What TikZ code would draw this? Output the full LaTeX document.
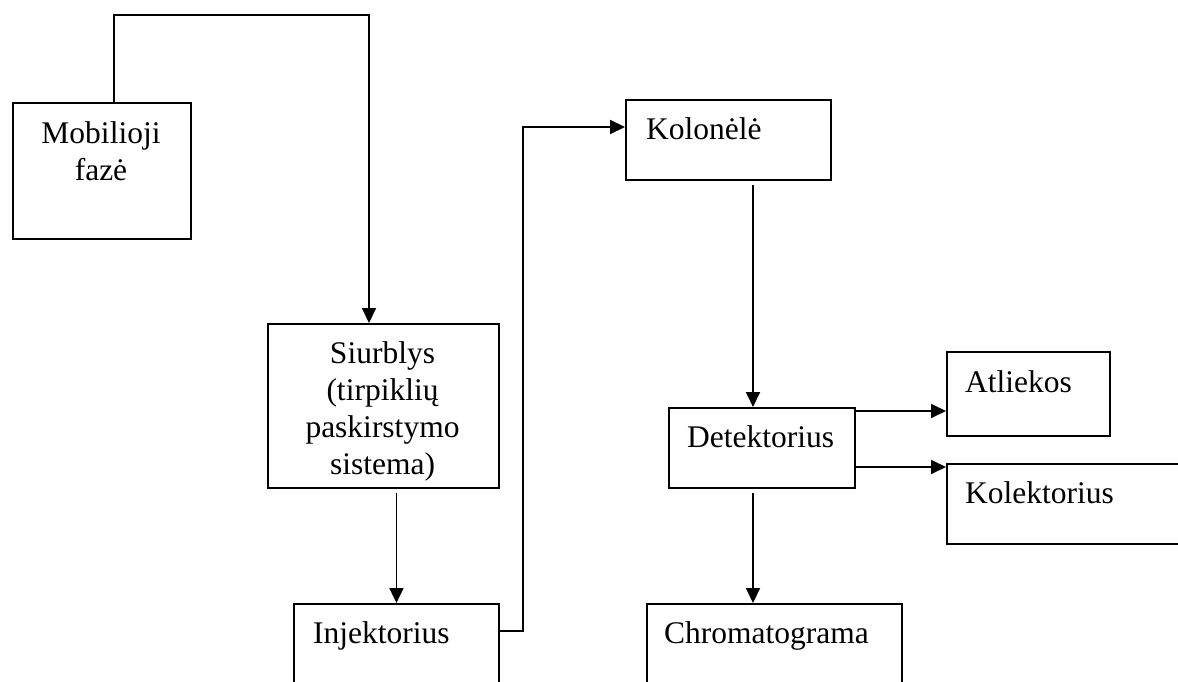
\documentclass[tikz,border=0pt]{standalone}
\usepackage{fontspec}
\setmainfont{Liberation Serif}
\usetikzlibrary{arrows.meta,calc}
\begin{document}
\begin{tikzpicture}[x=1pt,y=-1pt,
  box/.style={draw,line width=1.9pt,inner sep=0pt,anchor=north west},
  lbl/.style={inner sep=0pt,font=\fontsize{31.5}{37}\selectfont},
  conn/.style={line width=1.9pt},
  arr/.style={conn,-{Triangle[length=15pt,width=14pt]}}]
\useasboundingbox (0,0) rectangle (1178,682);
\clip (0,0) rectangle (1178,682);
% boxes
\node[box,minimum width=178pt,minimum height=136pt] (mob) at (12,102) {};
\node[box,minimum width=231pt,minimum height=164pt] (siu) at (267,323) {};
\node[box,minimum width=205pt,minimum height=120pt] (inj) at (293,603) {};
\node[box,minimum width=205pt,minimum height=80pt] (kol) at (625,99) {};
\node[box,minimum width=186pt,minimum height=80pt] (det) at (668,407) {};
\node[box,minimum width=163pt,minimum height=84pt] (atl) at (946,351) {};
\node[box,minimum width=260pt,minimum height=80pt] (kolk) at (946,463) {};
\node[box,minimum width=255pt,minimum height=120pt] (chr) at (646,603) {};
% labels
\node[lbl,align=center,anchor=north] (mobt) at (101,121.5) {Mobilioji\\fazė};
\node[lbl,align=center,anchor=north] (siut) at (382.5,341.5) {Siurblys\\(tirpiklių\\paskirstymo\\sistema)};
\node[lbl,anchor=base west] (injt) at (313,643) {Injektorius};
\node[lbl,anchor=base west] (kolt) at (646,140) {Kolonėlė};
\node[lbl,anchor=base west] (dett) at (687,447) {Detektorius};
\node[lbl,anchor=base west] (atlt) at (965,392) {Atliekos};
\node[lbl,anchor=base west] (kolkt) at (965,503) {Kolektorius};
\node[lbl,anchor=base west] (chrt) at (664,643) {Chromatograma};
% connectors
\coordinate (m1) at ($(mob.north west)+(102,0)$);
\coordinate (s1) at ($(siu.north west)+(102,0)$);
\draw[arr] (m1) -- (m1 |- 0,15) -- (s1 |- 0,15) -- (s1);
\draw[arr,shorten <=4pt] (siu.south -| inj.north) -- (inj.north);
\coordinate (i1) at ($(inj.north east)+(0,28)$);
\coordinate (k1) at ($(kol.north west)+(0,28)$);
\draw[arr] (i1) -- (i1 -| 523,0) -- (k1 -| 523,0) -- (k1);
\coordinate (k2) at ($(kol.south west)+(128,0)$);
\draw[arr,shorten <=4pt] (k2) -- (k2 |- det.north);
\coordinate (d1) at ($(det.north east)+(0,4)$);
\coordinate (d2) at ($(det.north east)+(0,60)$);
\draw[arr] (d1) -- (d1 -| atl.west);
\draw[arr] (d2) -- (d2 -| kolk.west);
\coordinate (d3) at ($(det.south west)+(85,0)$);
\draw[arr,shorten <=4pt] (d3) -- (d3 |- chr.north);
\end{tikzpicture}
\end{document}
